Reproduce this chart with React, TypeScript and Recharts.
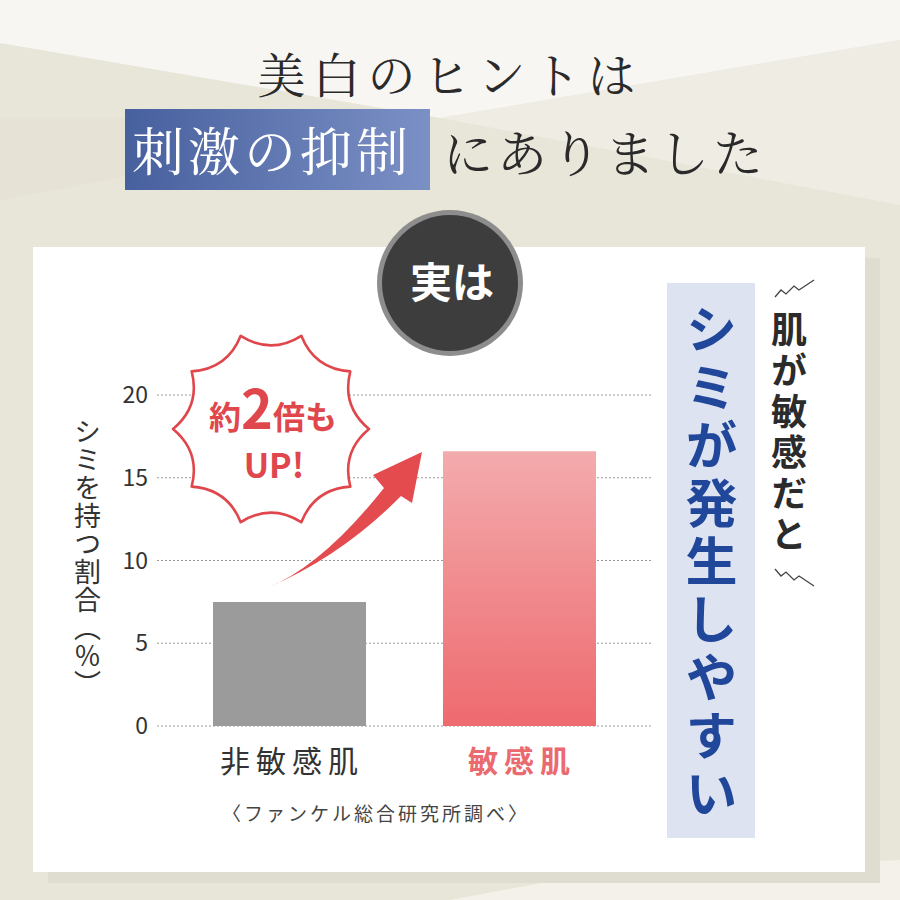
import { BarChart, Bar, XAxis, YAxis, CartesianGrid, Cell } from "recharts";

// 値は画像から読み取り
const categories = ["非敏感肌", "敏感肌"];
const shareValues = [7.5, 16.6];
const yTicks = [0, 5, 10, 15, 20];
const barColors = ["#9b9b9b", "url(#pinkGrad)"];
const labelColors = ["#333333", "#eb6a6f"];

const chartData = categories.map((name, i) => ({ name, value: shareValues[i] }));

const JP = '"Noto Sans CJK JP", "Noto Sans", sans-serif';
const JP_SERIF = '"Noto Serif CJK JP", "Noto Sans CJK JP", serif';

// バッジ(ギザギザの円)のパス
function burstPath(cx: number, cy: number, R: number, rc: number, n: number) {
  const pts: string[] = [];
  for (let i = 0; i < n; i++) {
    const a = (i * 2 * Math.PI) / n;
    const m = a + Math.PI / n;
    const tip = `${(cx + R * Math.cos(a)).toFixed(1)} ${(cy - R * Math.sin(a)).toFixed(1)}`;
    const c = `${(cx + rc * Math.cos(m)).toFixed(1)} ${(cy - rc * Math.sin(m)).toFixed(1)}`;
    if (i === 0) pts.push(`M ${tip}`);
    const nx = a + (2 * Math.PI) / n;
    const next = `${(cx + R * Math.cos(nx)).toFixed(1)} ${(cy - R * Math.sin(nx)).toFixed(1)}`;
    pts.push(`Q ${c} ${next}`);
  }
  return pts.join(" ") + " Z";
}

function CategoryTick(props: any) {
  const { x, y, payload, index } = props;
  const spacing = 6;
  return (
    <text
      x={x + spacing / 2}
      y={y + 38}
      textAnchor="middle"
      fontFamily={JP}
      fontSize={30}
      fontWeight={index === 1 ? 700 : 400}
      letterSpacing={spacing}
      fill={labelColors[index]}
    >
      {payload.value}
    </text>
  );
}

export default function App() {
  return (
    <div
      style={{
        position: "absolute",
        top: 0,
        left: 0,
        width: 900,
        height: 900,
        overflow: "hidden",
        fontFamily: JP,
      }}
    >
      {/* 背景とカード */}
      <svg width={900} height={900} style={{ position: "absolute", top: 0, left: 0 }}>
        <defs>
          <linearGradient id="pinkGrad" x1="0" y1="0" x2="0" y2="1">
            <stop offset="0%" stopColor="#f3abad" />
            <stop offset="100%" stopColor="#ee6a6f" />
          </linearGradient>
          <linearGradient id="titleGrad" x1="0" y1="0" x2="1" y2="0">
            <stop offset="0%" stopColor="#47609e" />
            <stop offset="100%" stopColor="#7b90c5" />
          </linearGradient>
        </defs>
        <rect x={0} y={0} width={900} height={900} fill="#e8e5d9" />
        <polygon points="0,0 900,0 900,40 440,118 0,43" fill="#f7f6f2" />
        <polygon points="440,118 900,40 900,205" fill="#eeece3" />
        <polygon points="0,200 440,118 0,118" fill="#e6e3d6" />
        <polygon points="600,872 900,860 900,900 450,900" fill="#f3f1ea" />
        <rect x={48} y={258} width={832} height={625} fill="#dfdcd0" />
        <rect x={33} y={247} width={832} height={625} fill="#ffffff" />
        <rect x={125} y={109} width={305} height={81} fill="url(#titleGrad)" />
        <rect x={667} y={283} width={88} height={555} fill="#dde3f0" />
      </svg>

      {/* タイトル */}
      <div
        style={{
          position: "absolute",
          top: 44,
          left: 0,
          width: 900,
          textAlign: "center",
          fontFamily: JP_SERIF,
          fontSize: 48,
          letterSpacing: 7,
          color: "#2a2a2a",
          lineHeight: 1.2,
        }}
      >
        美白のヒントは
      </div>
      <div
        style={{
          position: "absolute",
          top: 118,
          left: 132,
          fontFamily: JP_SERIF,
          fontSize: 52,
          letterSpacing: 4,
          color: "#ffffff",
          lineHeight: 1.2,
          whiteSpace: "nowrap",
        }}
      >
        刺激の抑制
      </div>
      <div
        style={{
          position: "absolute",
          top: 120,
          left: 443,
          fontFamily: JP_SERIF,
          fontSize: 50,
          letterSpacing: 4,
          color: "#2a2a2a",
          lineHeight: 1.2,
          whiteSpace: "nowrap",
        }}
      >
        にありました
      </div>

      {/* グラフ本体 */}
      <div style={{ position: "absolute", top: 0, left: 0 }}>
        <BarChart
          width={900}
          height={900}
          data={chartData}
          margin={{ top: 395, right: 247, bottom: 114, left: 107 }}
        >
          <CartesianGrid
            vertical={false}
            stroke="#9a9a9a"
            strokeDasharray="2 2"
            strokeWidth={1}
          />
          <XAxis
            dataKey="name"
            axisLine={false}
            tickLine={false}
            height={60}
            padding={{ left: 17, right: 19 }}
            tick={<CategoryTick />}
            interval={0}
          />
          <YAxis
            width={50}
            domain={[0, 20]}
            ticks={yTicks}
            axisLine={false}
            tickLine={false}
            tickMargin={3}
            tick={{ fill: "#333333", fontSize: 23, fontFamily: JP, fontWeight: 400 }}
          />
          <Bar dataKey="value" barSize={153} isAnimationActive={false}>
            {chartData.map((d, i) => (
              <Cell key={d.name} fill={barColors[i]} />
            ))}
          </Bar>
        </BarChart>
      </div>

      {/* 縦軸ラベル */}
      <div
        style={{
          position: "absolute",
          top: 418,
          left: 73,
          width: 28,
          writingMode: "vertical-rl",
          fontSize: 27,
          lineHeight: 1,
          color: "#333333",
          letterSpacing: 1,
          whiteSpace: "nowrap",
        }}
      >
        シミを持つ割合（％）
      </div>

      {/* 出典 */}
      <div
        style={{
          position: "absolute",
          top: 802,
          left: 176,
          width: 400,
          textAlign: "center",
          fontSize: 19,
          letterSpacing: 3,
          color: "#444444",
          lineHeight: 1.2,
        }}
      >
        〈ファンケル総合研究所調べ〉
      </div>

      {/* 装飾: 円, バッジ, 矢印, ジグザグ */}
      <svg
        width={900}
        height={900}
        style={{ position: "absolute", top: 0, left: 0, pointerEvents: "none" }}
      >
        <circle cx={450} cy={283} r={73} fill="#8d8d8d" />
        <circle cx={450} cy={283} r={68} fill="#3d3d3d" />
        <text
          x={452}
          y={298}
          textAnchor="middle"
          fontFamily={JP}
          fontSize={42}
          fontWeight={700}
          fill="#ffffff"
        >
          実は
        </text>

        <path
          d={burstPath(271, 429, 98, 74, 10)}
          fill="#ffffff"
          stroke="#e0474c"
          strokeWidth={2.6}
          strokeLinejoin="round"
        />
        <text
          x={273}
          y={429}
          textAnchor="middle"
          fontFamily={JP}
          fontWeight={700}
          fill="#e0474c"
        >
          <tspan fontSize={32}>約</tspan>
          <tspan fontSize={54}>2</tspan>
          <tspan fontSize={32}>倍も</tspan>
        </text>
        <text
          x={274}
          y={478}
          textAnchor="middle"
          fontFamily={JP}
          fontWeight={700}
          fontSize={34}
          fill="#e0474c"
        >
          UP!
        </text>

        <path
          d="M 267 588 Q 322 566 384 488 L 373 475 L 422 452 L 412 503 L 401 496 Q 342 556 267 588 Z"
          fill="#e34b4f"
        />

        <polyline
          points="775,297 781,290 786,294 794,286 799,290 814,280"
          fill="none"
          stroke="#444444"
          strokeWidth={1.3}
        />
        <polyline
          points="775,569 781,576 786,572 794,580 799,576 814,586"
          fill="none"
          stroke="#444444"
          strokeWidth={1.3}
        />
      </svg>

      {/* 右側の縦書きテキスト */}
      <div
        style={{
          position: "absolute",
          top: 303,
          left: 685,
          width: 52,
          writingMode: "vertical-rl",
          fontSize: 52,
          fontWeight: 700,
          lineHeight: 1,
          letterSpacing: 6,
          color: "#21479a",
          whiteSpace: "nowrap",
        }}
      >
        シミが発生しやすい
      </div>
      <div
        style={{
          position: "absolute",
          top: 311,
          left: 771,
          width: 36,
          writingMode: "vertical-rl",
          fontSize: 36,
          fontWeight: 700,
          lineHeight: 1,
          letterSpacing: 5,
          color: "#2b2b2b",
          whiteSpace: "nowrap",
        }}
      >
        肌が敏感だと
      </div>
    </div>
  );
}
